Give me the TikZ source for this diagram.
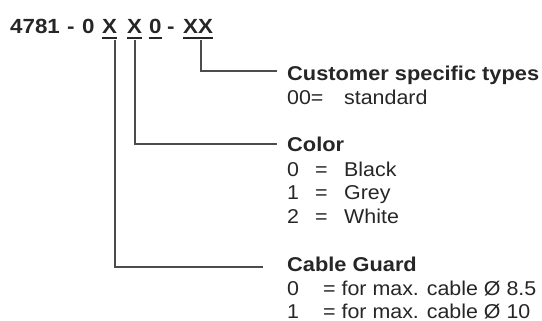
\documentclass[tikz,border=0pt]{standalone}
\usepackage{fontspec}
\setmainfont{Liberation Sans}[FakeStretch=1.07, BoldFeatures={FakeStretch=1.09}]
\newcommand\myul[1]{\leavevmode\setbox0\hbox{#1}\rlap{\rule[-5pt]{\wd0}{1.6pt}}\box0}
\begin{document}
\begin{tikzpicture}[x=1pt,y=-1pt,
 txt/.style={anchor=base west, inner sep=0pt, font=\fontsize{20}{24}\selectfont, text=black!85},
 head/.style={txt, font=\fontsize{20}{24}\selectfont\bfseries},
 ttl/.style={txt, font=\fontsize{20.5}{24}\selectfont\bfseries},
 lead/.style={line width=1.7pt, draw=black!70}]
\useasboundingbox (0,0) rectangle (542,321);
% title
\node[ttl] (n4781) at (10,34) {4781};
\node[ttl] (d1) at (67,34) {-};
\node[ttl] (z1) at (82,34) {0};
\node[ttl] (xa) at (102,34) {\myul{X}};
\node[ttl] (xb) at (127,34) {\myul{X}};
\node[ttl] (zb) at (149,34) {\myul{0}};
\node[ttl] (d2) at (167,34) {-};
\node[ttl] (xx) at (183,34) {\myul{XX}};
% customer specific
\node[head] (cst) at (287,81) {Customer specific types};
\node[txt] (cst0) at (287,105) {00=};
\node[txt] (cst0t) at (344,105) {standard};
% color
\node[head] (col) at (287,152) {Color};
\node[txt] (c0) at (287,177) {0};
\node[txt] (c0e) at (315,177) {=};
\node[txt] (c0t) at (344,177) {Black};
\node[txt] (c1) at (287,200) {1};
\node[txt] (c1e) at (315,200) {=};
\node[txt] (c1t) at (344,200) {Grey};
\node[txt] (c2) at (287,224) {2};
\node[txt] (c2e) at (315,224) {=};
\node[txt] (c2t) at (344,224) {White};
% cable guard
\node[head] (cab) at (287,272) {Cable Guard};
\node[txt] (g0) at (287,295) {0};
\node[txt] (g0t) at (323,295) {= for max. cable Ø 8.5};
\node[txt] (g1) at (287,318) {1};
\node[txt] (g1t) at (323,318) {= for max. cable Ø 10};
% leaders
\coordinate (e1) at (277,71);
\coordinate (e2) at (277,144);
\coordinate (e3) at (263,267);
\draw[lead] ([xshift=3pt,yshift=-1pt]xx.south) |- (e1);
\draw[lead] ([yshift=-1pt]xb.south) |- (e2);
\draw[lead] ([xshift=-2pt,yshift=-1pt]xa.south east) |- (e3);
\end{tikzpicture}
\end{document}
